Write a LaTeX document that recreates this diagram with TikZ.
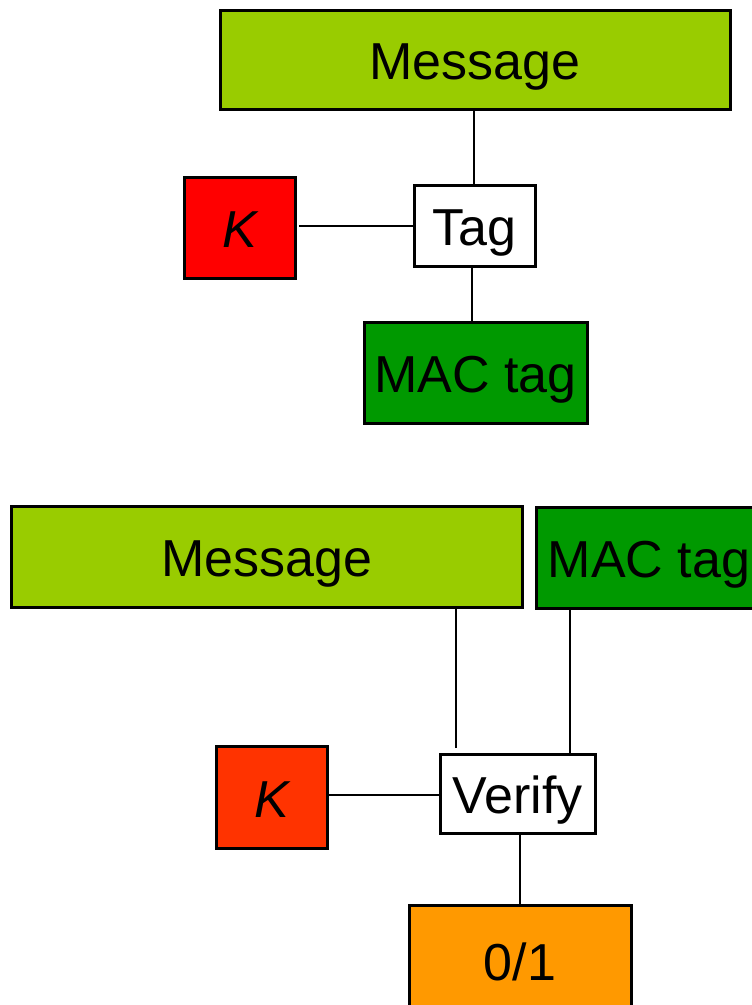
\documentclass[tikz,border=0pt]{standalone}
\usepackage{fontspec}
\setmainfont{Liberation Sans}
\definecolor{msgc}{HTML}{99CC00}
\definecolor{macc}{HTML}{009900}
\definecolor{keya}{HTML}{FF0000}
\definecolor{keyb}{HTML}{FF3300}
\definecolor{outc}{HTML}{FF9900}
\begin{document}
\begin{tikzpicture}[x=1pt,y=-1pt,
  box/.style={draw=black,line width=3pt,inner sep=0pt,outer sep=0pt,anchor=north west,
    text height=52pt,text depth=12pt,
    font=\fontsize{52}{60}\selectfont},
  conn/.style={draw=black,line width=2pt}]
\useasboundingbox (0,0) rectangle (752,1005);
\clip (0,0) rectangle (752,1005);
% top part
\node[box,fill=msgc,minimum width=510pt,minimum height=99pt] (msga) at (220,10) {Message};
\node[box,fill=white,minimum width=121pt,minimum height=81pt] (tag) at (414,185) {Tag};
\node[box,fill=keya,minimum width=111pt,minimum height=101pt] (ka) at (184,177) {\itshape K};
\node[box,fill=macc,minimum width=223pt,minimum height=101pt] (maca) at (364,322) {MAC tag};
\draw[conn] (tag.north -| 474,0) -- (msga.south -| 474,0);
\draw[conn] (tag.west) -- ([xshift=4pt]tag.west -| ka.east);
\draw[conn] (tag.south -| 472,0) -- (maca.north -| 472,0);
% bottom part
\node[box,fill=msgc,minimum width=511pt,minimum height=101pt] (msgb) at (11,506) {Message};
\node[box,fill=macc,minimum width=226pt,minimum height=101pt] (macb) at (536,507) {MAC tag};
\node[box,fill=white,minimum width=155pt,minimum height=79pt] (ver) at (440,754) {Verify};
\node[box,fill=keyb,minimum width=111pt,minimum height=102pt] (kb) at (216,746) {\itshape K};
\node[box,fill=outc,minimum width=222pt,minimum height=110pt] (res) at (409,905) {0/1};
\draw[conn] ([xshift=16pt,yshift=6pt]ver.north west) -- ([xshift=16pt]ver.north west |- msgb.south);
\draw[conn] ([xshift=-25pt]ver.north east) -- ([xshift=-25pt]ver.north east |- macb.south);
\draw[conn] ([yshift=-1.5pt]ver.west) -- ([yshift=-1.5pt,xshift=2pt]ver.west -| kb.east);
\draw[conn] (res.north) -- (res.north |- ver.south);
\end{tikzpicture}
\end{document}
